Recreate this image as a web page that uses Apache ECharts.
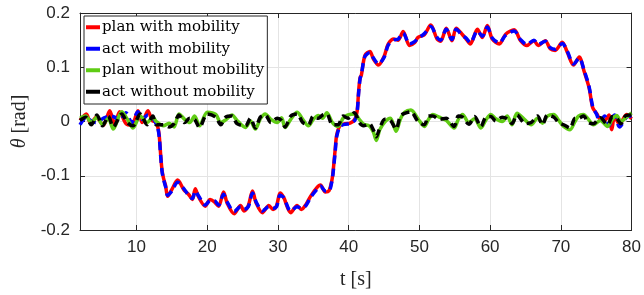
<!DOCTYPE html>
<html>
<head>
<meta charset="utf-8">
<script src="https://cdn.jsdelivr.net/npm/echarts@6/dist/echarts.min.js"></script>
<style>
  html, body { margin: 0; padding: 0; background: #fff; }
  #main { width: 644px; height: 295px; }
</style>
</head>
<body>
<div id="main"></div>
<script>
// theta over time, with and without mobility
var seriesNames = ['plan with mobility', 'act with mobility', 'plan without mobility', 'act without mobility'];
var xTicks = [10, 20, 30, 40, 50, 60, 70, 80];
var yTicks = [-0.2, -0.1, 0, 0.1, 0.2];

var tMob = [2.0, 2.9, 3.5, 4.3, 5.3, 6.2, 6.9, 7.6, 8.5, 9.3, 10.2, 10.8, 11.6, 12.2, 12.7, 13.0, 13.2, 13.4, 13.6, 13.8,
  14.1, 14.4, 15.0, 15.8, 16.7, 17.4, 17.9, 18.3, 18.8, 19.7, 20.4, 21.0, 21.6, 22.3, 22.8, 23.8, 24.7, 25.2, 25.8, 26.4,
  26.9, 27.8, 28.7, 29.3, 29.8, 30.3, 30.8, 31.8, 32.7, 33.3, 34.0, 34.6, 35.5, 36.0, 36.7, 37.2, 37.6, 37.8, 38.1, 38.3,
  38.8, 39.5, 40.2, 40.9, 41.2, 41.4, 41.6, 41.8, 42.3, 43.0, 43.5, 44.2, 45.0, 45.6, 46.4, 47.0, 47.7, 48.6, 49.3, 49.8,
  50.7, 51.6, 52.5, 53.0, 53.8, 54.6, 55.2, 56.1, 56.6, 57.2, 58.2, 58.9, 59.6, 60.3, 61.3, 62.2, 63.4, 64.3, 65.2, 66.2,
  66.8, 67.8, 68.5, 69.2, 70.2, 70.9, 71.8, 72.6, 73.3, 74.0, 74.5, 75.1, 75.5, 76.2, 76.8, 77.2, 77.6, 78.3, 79.3, 80.0];
var planMob = [0.002, 0.014, -0.004, 0.008, -0.007, 0.020, -0.005, 0.018, -0.004, -0.007, 0.020, -0.002, 0.020, 0.002, -0.001, -0.010, -0.025, -0.060, -0.090, -0.104,
  -0.118, -0.138, -0.125, -0.108, -0.126, -0.135, -0.144, -0.124, -0.140, -0.156, -0.144, -0.148, -0.156, -0.130, -0.150, -0.170, -0.155, -0.165, -0.155, -0.128,
  -0.150, -0.168, -0.155, -0.162, -0.155, -0.132, -0.140, -0.168, -0.155, -0.162, -0.152, -0.138, -0.122, -0.117, -0.130, -0.128, -0.110, -0.091, -0.050, -0.025,
  -0.007, -0.004, -0.003, 0.005, 0.020, 0.055, 0.080, 0.086, 0.122, 0.129, 0.115, 0.104, 0.120, 0.143, 0.152, 0.150, 0.166, 0.140, 0.145, 0.155,
  0.160, 0.178, 0.152, 0.148, 0.172, 0.149, 0.172, 0.160, 0.152, 0.143, 0.170, 0.155, 0.177, 0.152, 0.143, 0.161, 0.169, 0.149, 0.140, 0.149,
  0.140, 0.149, 0.134, 0.131, 0.146, 0.128, 0.104, 0.119, 0.092, 0.062, 0.026, 0.014, 0.005, 0.002, 0.012, -0.015, 0.009, -0.005, 0.013, 0.005];
var actMob = [-0.006, 0.008, 0.002, -0.002, 0.006, 0.010, 0.008, 0.001, 0.016, -0.002, 0.018, 0.004, 0.012, 0.008, -0.002, -0.012, -0.028, -0.062, -0.092, -0.106,
  -0.120, -0.136, -0.128, -0.112, -0.124, -0.137, -0.142, -0.128, -0.138, -0.154, -0.146, -0.146, -0.154, -0.134, -0.148, -0.166, -0.157, -0.162, -0.157, -0.132,
  -0.148, -0.165, -0.157, -0.160, -0.157, -0.136, -0.140, -0.165, -0.157, -0.160, -0.154, -0.140, -0.125, -0.119, -0.128, -0.128, -0.112, -0.094, -0.054, -0.028,
  -0.009, -0.005, -0.004, 0.003, 0.018, 0.052, 0.078, 0.088, 0.120, 0.127, 0.117, 0.106, 0.118, 0.141, 0.150, 0.152, 0.163, 0.143, 0.147, 0.153,
  0.162, 0.175, 0.155, 0.150, 0.170, 0.151, 0.170, 0.158, 0.154, 0.145, 0.167, 0.157, 0.174, 0.154, 0.145, 0.159, 0.167, 0.151, 0.142, 0.150,
  0.142, 0.148, 0.136, 0.133, 0.144, 0.130, 0.106, 0.117, 0.094, 0.064, 0.028, 0.012, 0.000, 0.010, -0.008, 0.004, 0.012, -0.010, 0.008, 0.010];

var tFree = [2.0, 2.8, 3.6, 4.4, 5.2, 6.0, 6.7, 7.9, 8.7, 9.5, 10.5, 11.5, 12.3, 12.8, 13.8, 14.6, 15.3, 16.0, 16.8, 17.5,
  18.2, 18.9, 20.0, 21.2, 21.9, 22.6, 23.5, 24.2, 25.4, 26.1, 26.8, 27.5, 28.2, 29.0, 29.9, 30.5, 31.0, 31.8, 32.7, 33.5,
  34.3, 35.0, 35.7, 36.3, 36.9, 37.7, 38.5, 39.2, 39.9, 40.8, 41.5, 42.1, 42.9, 43.5, 43.9, 44.4, 45.1, 45.9, 46.7, 47.3,
  47.9, 48.8, 49.8, 50.7, 51.3, 51.9, 52.8, 53.8, 54.9, 55.5, 56.1, 57.0, 57.8, 58.7, 59.4, 60.1, 60.8, 61.7, 62.4, 63.1,
  63.8, 65.0, 65.8, 66.7, 67.4, 68.1, 69.0, 69.7, 70.4, 71.3, 72.0, 72.5, 73.2, 73.9, 74.6, 75.6, 76.6, 77.3, 77.9, 78.5,
  79.2, 80.0];
var planFree = [0.006, 0.010, -0.002, 0.008, -0.006, 0.006, -0.014, 0.018, 0.004, -0.012, 0.010, -0.002, 0.008, 0.000, -0.008, -0.003, -0.010, 0.014, 0.004, -0.002,
  0.010, -0.008, 0.017, 0.013, -0.002, 0.003, 0.012, 0.002, -0.011, 0.001, -0.014, 0.005, 0.014, 0.004, -0.002, 0.007, -0.011, 0.004, 0.017, 0.004,
  -0.008, 0.004, 0.011, 0.006, 0.016, -0.002, -0.009, 0.006, 0.012, 0.014, 0.004, -0.005, -0.008, -0.020, -0.035, -0.015, -0.001, 0.006, -0.018, 0.004,
  0.017, 0.021, 0.005, -0.009, 0.004, 0.013, 0.008, 0.002, -0.012, 0.004, 0.013, -0.002, 0.005, -0.012, 0.003, 0.013, 0.005, 0.000, 0.010, -0.006,
  0.015, 0.002, -0.006, 0.006, -0.003, 0.010, 0.013, 0.002, -0.009, -0.015, 0.000, 0.010, 0.013, 0.004, -0.006, 0.002, -0.009, 0.005, 0.011, 0.000,
  0.007, 0.016];
var actFree = [0.002, 0.008, -0.006, 0.012, -0.008, 0.010, -0.010, 0.014, -0.002, -0.008, 0.014, -0.006, 0.010, -0.006, -0.006, -0.010, -0.004, 0.012, -0.002, 0.006,
  0.004, -0.011, 0.014, 0.008, -0.006, 0.008, 0.010, -0.004, -0.008, 0.006, -0.012, 0.008, 0.012, -0.002, 0.006, 0.002, -0.010, 0.010, 0.014, -0.002,
  -0.006, 0.010, 0.006, 0.012, 0.014, -0.006, -0.006, 0.010, 0.006, 0.016, -0.002, -0.008, -0.004, -0.016, -0.028, -0.012, 0.004, 0.002, -0.014, 0.010,
  0.015, 0.018, 0.000, -0.006, 0.010, 0.010, 0.004, 0.006, -0.009, 0.010, 0.008, -0.005, 0.009, -0.009, 0.008, 0.009, 0.001, 0.008, 0.005, -0.004,
  0.012, -0.004, -0.002, 0.010, -0.006, 0.012, 0.008, -0.002, -0.006, -0.012, 0.006, 0.006, 0.010, -0.002, -0.004, 0.007, -0.006, 0.009, 0.006, -0.004,
  0.011, 0.012];

var colors = ['#ff0000', '#0000ff', '#5fcc14', '#000000'];

function pairs(t, v) {
  var out = [];
  for (var i = 0; i < t.length; i++) out.push([t[i], v[i]]);
  return out;
}

var dom = document.getElementById('main');
var myChart = echarts.init(dom, null, { renderer: 'canvas' });
var axisColor = '#262626';
var labelFont = '"Liberation Sans", Arial, sans-serif';
var serifFont = '"DejaVu Serif", "Liberation Serif", serif';

var option = {
  animation: false,
  backgroundColor: '#fff',
  grid: { left: 80, right: 9, top: 13, bottom: 59 },
  legend: {
    data: seriesNames,
    orient: 'vertical',
    left: 84,
    top: 16,
    icon: 'rect',
    itemWidth: 14,
    itemHeight: 4,
    itemGap: 1,
    padding: [1, 3, 2, 2],
    selectedMode: false,
    backgroundColor: '#fff',
    borderColor: axisColor,
    borderWidth: 1,
    textStyle: { fontFamily: serifFont, fontSize: 15, color: '#000', padding: [0, 0, 0, -3], lineHeight: 20.5 }
  },
  xAxis: [{
    type: 'value',
    min: 2,
    max: 80,
    name: 't [s]',
    nameLocation: 'middle',
    nameGap: 40,
    nameTextStyle: { fontFamily: '"Liberation Serif", serif', fontSize: 20, color: axisColor },
    axisLine: { onZero: false, lineStyle: { color: axisColor } },
    axisTick: { inside: true, length: 5, customValues: xTicks, lineStyle: { color: axisColor } },
    axisLabel: { customValues: xTicks, fontFamily: labelFont, fontSize: 17, color: axisColor, margin: 9 },
    splitLine: { show: true, lineStyle: { color: '#e4e4e4' } }
  }, {
    type: 'value',
    position: 'top',
    min: 2,
    max: 80,
    axisLine: { onZero: false, lineStyle: { color: axisColor } },
    axisTick: { inside: true, length: 5, customValues: xTicks, lineStyle: { color: axisColor } },
    axisLabel: { show: false },
    splitLine: { show: false }
  }],
  yAxis: [{
    type: 'value',
    min: -0.2,
    max: 0.2,
    interval: 0.1,
    name: '{th|θ} [rad]',
    nameLocation: 'middle',
    nameGap: 50,
    nameRotate: 90,
    nameTextStyle: {
      fontFamily: '"Liberation Serif", serif', fontSize: 20, color: axisColor,
      rich: { th: { fontFamily: '"Liberation Serif", serif', fontStyle: 'italic', fontSize: 20, color: axisColor } }
    },
    axisLine: { show: true, onZero: false, lineStyle: { color: axisColor } },
    axisTick: { show: true, inside: true, length: 5, lineStyle: { color: axisColor } },
    axisLabel: {
      fontFamily: labelFont, fontSize: 17, color: axisColor, margin: 10,
      formatter: function (v) { return Math.abs(v) < 1e-9 ? '0' : v.toFixed(1); }
    },
    splitLine: { show: true, lineStyle: { color: '#e4e4e4' } }
  }, {
    type: 'value',
    position: 'right',
    min: -0.2,
    max: 0.2,
    interval: 0.1,
    axisLine: { show: true, onZero: false, lineStyle: { color: axisColor } },
    axisTick: { show: true, inside: true, length: 5, lineStyle: { color: axisColor } },
    axisLabel: { show: false },
    splitLine: { show: false }
  }],
  series: [
    {
      name: seriesNames[0], type: 'line', data: pairs(tMob, planMob), showSymbol: false, smooth: 0.3,
      color: colors[0], lineStyle: { width: 3.5, color: colors[0] }
    },
    {
      name: seriesNames[1], type: 'line', data: pairs(tMob, actMob), showSymbol: false, smooth: 0.3,
      color: colors[1], lineStyle: { width: 3.5, color: colors[1], type: [8, 5] }
    },
    {
      name: seriesNames[2], type: 'line', data: pairs(tFree, planFree), showSymbol: false, smooth: 0.3,
      color: colors[2], lineStyle: { width: 3.5, color: colors[2] }
    },
    {
      name: seriesNames[3], type: 'line', data: pairs(tFree, actFree), showSymbol: false, smooth: 0.3,
      color: colors[3], lineStyle: { width: 3.5, color: colors[3], type: [8, 5] }
    }
  ]
};

myChart.setOption(option);
</script>
</body>
</html>
